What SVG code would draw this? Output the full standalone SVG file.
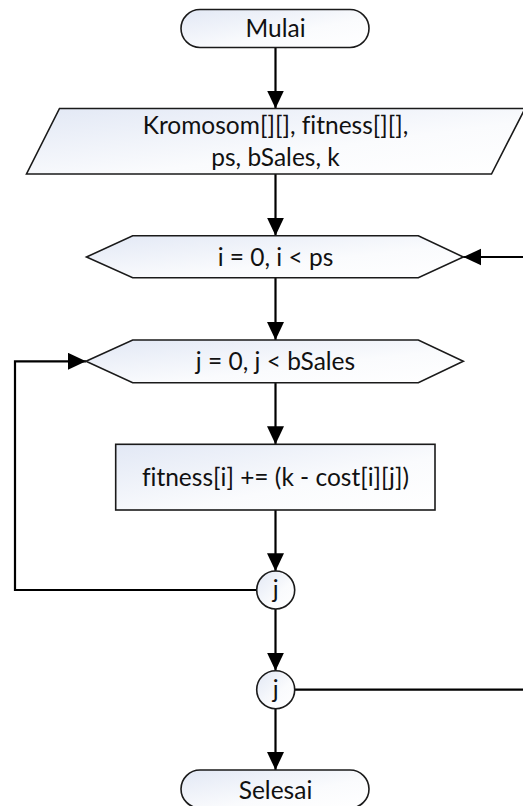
<svg xmlns="http://www.w3.org/2000/svg" width="523" height="806" viewBox="0 0 523 806">
  <style>
    .shape { fill: url(#shade); stroke: #1a1a1a; stroke-width: 1.6; }
    .lbl { font-family: Lato, "Liberation Sans", sans-serif; font-size: 24.5px; fill: #111; text-anchor: middle; font-variant-ligatures: none; font-feature-settings: "liga" 0; }
    .wire { fill: none; stroke: #000; stroke-width: 2.2; }
  </style>
  <defs>
    <linearGradient id="shade" x1="0" y1="0" x2="1" y2="1">
      <stop offset="0" stop-color="#e2e8f5"/>
      <stop offset="0.6" stop-color="#fafbfd"/>
      <stop offset="1" stop-color="#ffffff"/>
    </linearGradient>
    <marker id="head" markerUnits="userSpaceOnUse" markerWidth="18" markerHeight="18" refX="18" refY="8.5" orient="auto">
      <path d="M0,0 L18,8.5 L0,17 Z" fill="#000"/>
    </marker>
  </defs>

  <!-- connectors -->
  <g id="connectors">
    <line class="wire" x1="275.5" y1="47.5" x2="275.5" y2="108.5" marker-end="url(#head)"/>
    <line class="wire" x1="275.5" y1="174" x2="275.5" y2="235.7" marker-end="url(#head)"/>
    <line class="wire" x1="275.5" y1="277.7" x2="275.5" y2="340" marker-end="url(#head)"/>
    <line class="wire" x1="275.5" y1="382.7" x2="275.5" y2="444.3" marker-end="url(#head)"/>
    <line class="wire" x1="275.5" y1="510" x2="275.5" y2="571.2" marker-end="url(#head)"/>
    <line class="wire" x1="275.5" y1="609" x2="275.5" y2="670.7" marker-end="url(#head)"/>
    <line class="wire" x1="275.5" y1="708.7" x2="275.5" y2="770" marker-end="url(#head)"/>
    <!-- inner loop back to j test -->
    <path class="wire" d="M256.5,590 H15 V361.3 H86" marker-end="url(#head)"/>
    <!-- outer loop back to i test -->
    <path class="wire" d="M294.5,689.7 H545 V257 H463.3" marker-end="url(#head)"/>
  </g>

  <g id="start">
    <rect class="shape" x="181" y="9.5" width="188" height="38" rx="19" ry="19"/>
    <text class="lbl" x="275.5" y="36.5">Mulai</text>
  </g>

  <g id="input">
    <polygon class="shape" points="59.5,108.5 525,108.5 491.5,174 26.5,174"/>
    <text class="lbl" x="275.5" y="134">Kromosom[][], fitness[][],</text>
    <text class="lbl" x="275.5" y="165.5">ps, bSales, k</text>
  </g>

  <g id="loop-i">
    <polygon class="shape" points="86.5,257 132.7,235.7 418.3,235.7 463.3,257 418.3,277.7 132.7,277.7"/>
    <text class="lbl" x="275.5" y="265.5">i = 0, i &lt; ps</text>
  </g>

  <g id="loop-j">
    <polygon class="shape" points="86,361.3 132.7,340 418.3,340 463.3,361.3 418.3,382.7 132.7,382.7"/>
    <text class="lbl" x="275.5" y="370">j = 0, j &lt; bSales</text>
  </g>

  <g id="process">
    <rect class="shape" x="115.7" y="444.3" width="319.3" height="65.7"/>
    <text class="lbl" x="275.5" y="485.5">fitness[i] += (k - cost[i][j])</text>
  </g>

  <g id="join-j1">
    <circle class="shape" cx="275.7" cy="590" r="19"/>
    <text class="lbl" x="275.7" y="598">j</text>
  </g>

  <g id="join-j2">
    <circle class="shape" cx="275.7" cy="689.7" r="19"/>
    <text class="lbl" x="275.7" y="697.5">j</text>
  </g>

  <g id="end">
    <rect class="shape" x="181" y="770" width="188" height="38" rx="19" ry="19"/>
    <text class="lbl" x="275.5" y="798.5">Selesai</text>
  </g>
</svg>
